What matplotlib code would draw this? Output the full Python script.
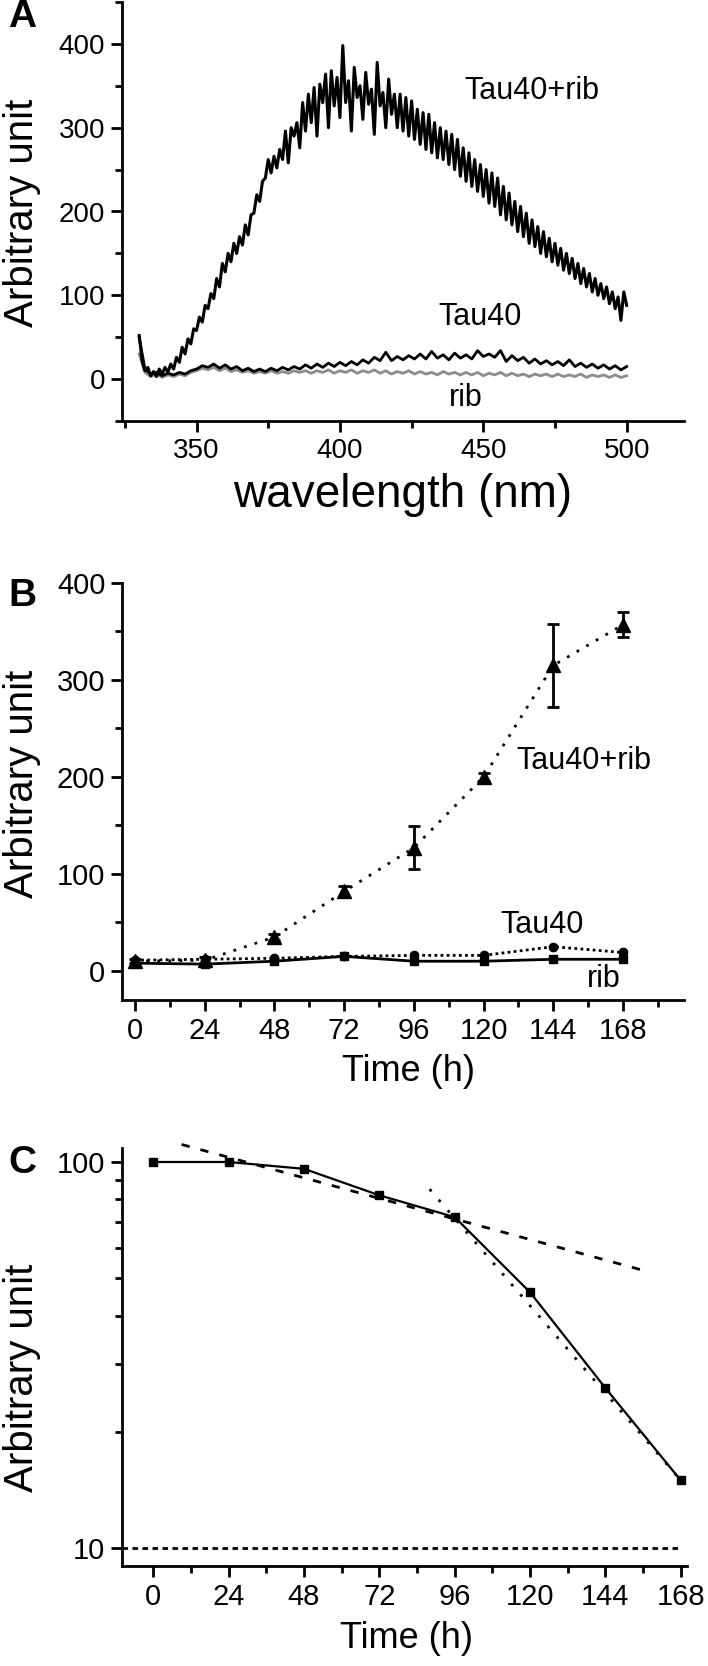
import numpy as np
import matplotlib
matplotlib.use('Agg')
import matplotlib.pyplot as plt
from matplotlib.ticker import FixedLocator, NullFormatter

plt.rcParams['font.family'] = ['Liberation Sans', 'DejaVu Sans']

# ---- panel A: emission spectra ----
wl_fine = np.arange(330, 501, 1)
tau40_rib_spec = [
    52, 22, 10, 14, 4, 9, 3, 12, 6, 14,
    8, 18, 12, 26, 20, 38, 30, 48, 42, 60,
    58, 74, 68, 88, 84, 102, 96, 120, 110, 138,
    128, 150, 140, 162, 150, 170, 160, 184, 172, 196,
    198, 220, 212, 236, 240, 262, 246, 266, 252, 274,
    262, 296, 258, 300, 290, 306, 276, 330, 296, 340,
    306, 348, 290, 352, 330, 364, 300, 368, 326, 360,
    312, 398, 330, 356, 296, 372, 336, 350, 310, 366,
    328, 346, 292, 378, 326, 342, 300, 358, 316, 340,
    300, 340, 296, 336, 290, 332, 286, 322, 280, 318,
    274, 316, 270, 306, 264, 300, 262, 296, 256, 292,
    250, 286, 242, 276, 236, 270, 230, 262, 224, 256,
    218, 250, 210, 246, 206, 240, 196, 230, 190, 222,
    184, 212, 176, 206, 170, 198, 162, 190, 158, 182,
    150, 176, 146, 168, 140, 162, 136, 156, 130, 150,
    126, 144, 120, 138, 114, 132, 110, 126, 104, 120,
    100, 114, 96, 110, 90, 104, 84, 98, 70, 104,
    88]

wl_coarse = np.arange(330, 501, 2)
tau40_spec = [
    50, 12, 6, 8, 4, 7, 5, 8, 6, 10,
    12, 16, 14, 18, 13, 17, 12, 15, 10, 13,
    9, 12, 9, 13, 10, 14, 11, 15, 12, 17,
    13, 18, 14, 19, 15, 20, 16, 21, 17, 23,
    19, 26, 22, 32, 22, 27, 23, 28, 24, 30,
    24, 33, 25, 29, 23, 31, 25, 29, 24, 34,
    27, 30, 26, 34, 21, 28, 22, 26, 19, 24,
    18, 22, 17, 21, 16, 23, 15, 19, 14, 18,
    13, 17, 12, 16, 11, 15]
rib_spec = [
    30, 8, 3, 6, 2, 5, 3, 6, 4, 8,
    10, 13, 11, 14, 10, 13, 9, 11, 8, 10,
    7, 9, 7, 10, 7, 9, 7, 10, 8, 10,
    7, 10, 8, 11, 7, 10, 8, 11, 7, 10,
    8, 11, 7, 10, 6, 9, 7, 10, 6, 9,
    6, 8, 5, 9, 6, 8, 5, 8, 5, 8,
    4, 7, 5, 8, 4, 7, 4, 6, 3, 6,
    4, 6, 3, 6, 3, 5, 3, 6, 2, 5,
    3, 5, 2, 5, 2, 4]

# ---- panel B: time course ----
time_h = [0, 24, 48, 72, 96, 120, 144, 168]
b_tau40_rib = [10, 11, 35, 82, 127, 200, 315, 357]
b_tau40_rib_err = [2, 3, 3, 6, 22, 4, 43, 13]
b_tau40 = [11, 12, 13, 15, 16, 16, 25, 19]
b_rib = [8, 7, 10, 15, 10, 10, 12, 12]

# ---- panel C: decay (log scale) ----
c_values = [100, 100, 96, 82, 72, 46, 26, 15]
fit1_t = [9, 155]
fit1_y = [111, 52.7]
fit2_t = [88, 168]
fit2_y = [85, 15]
baseline_t = [-10, 168]
baseline_y = [10, 10]

W, H = 708, 1666
fig = plt.figure(figsize=(W / 100, H / 100), dpi=100)


def style(ax, fs):
    for s in ['top', 'right']:
        ax.spines[s].set_visible(False)
    for s in ['left', 'bottom']:
        ax.spines[s].set_linewidth(2)
    ax.tick_params(which='major', direction='out', length=8, width=2,
                   labelsize=fs, pad=4)
    ax.tick_params(which='minor', direction='out', length=5, width=2)


# panel A
axA = fig.add_axes([122 / W, 1 - 421 / H, 562 / W, 419 / H])
axA.plot(wl_coarse, rib_spec, color='#8c8c8c', lw=2)
axA.plot(wl_coarse, tau40_spec, color='black', lw=2)
axA.plot(wl_fine, tau40_rib_spec, color='black', lw=2.2)
axA.set_xlim(324, 520)
axA.set_ylim(-50, 450)
axA.xaxis.set_major_locator(FixedLocator([350, 400, 450, 500]))
axA.xaxis.set_minor_locator(FixedLocator([325, 375, 425, 475]))
axA.yaxis.set_major_locator(FixedLocator([0, 100, 200, 300, 400]))
axA.yaxis.set_minor_locator(FixedLocator([-50, 50, 150, 250, 350, 450]))
style(axA, 20)
axA.set_xlabel('wavelength (nm)', fontsize=33)
axA.xaxis.set_label_coords(0.5, -0.125)
axA.text(467, 344, 'Tau40+rib', fontsize=22, ha='center', va='center')
axA.text(449, 74, 'Tau40', fontsize=22, ha='center', va='center')
axA.text(444, -22, 'rib', fontsize=22, ha='center', va='center')

# panel B
axB = fig.add_axes([122 / W, 1 - 1000 / H, 562 / W, 417 / H])
axB.plot(time_h, b_rib, color='black', lw=2, marker='s', ms=6)
axB.plot(time_h, b_tau40, color='black', lw=2, ls=(0, (1, 1.2)),
         marker='o', ms=6)
axB.errorbar(time_h, b_tau40_rib, yerr=b_tau40_rib_err, color='black',
             lw=2, ls=(0, (1, 3)), marker='^', ms=10, capsize=4,
             elinewidth=2, capthick=2)
axB.set_xlim(-4.5, 189)
axB.set_ylim(-30, 400)
axB.xaxis.set_major_locator(FixedLocator(time_h))
axB.xaxis.set_minor_locator(FixedLocator([12, 36, 60, 84, 108, 132, 156, 180]))
axB.yaxis.set_major_locator(FixedLocator([0, 100, 200, 300, 400]))
axB.yaxis.set_minor_locator(FixedLocator([50, 150, 250, 350]))
style(axB, 21)
axB.set_xlabel('Time (h)', fontsize=26)
axB.xaxis.set_label_coords(0.509, -0.13)
axB.text(154.5, 216, 'Tau40+rib', fontsize=22, ha='center', va='center')
axB.text(140, 47, 'Tau40', fontsize=22, ha='center', va='center')
axB.text(161.5, -8, 'rib', fontsize=22, ha='center', va='center')

# panel C
axC = fig.add_axes([122 / W, 1 - 1566 / H, 565 / W, 418 / H])
axC.set_yscale('log')
axC.plot(baseline_t, baseline_y, color='black', lw=2, ls=(0, (2, 1.6)))
axC.plot(fit1_t, fit1_y, color='black', lw=2, ls=(0, (3, 4)), clip_on=False)
axC.plot(fit2_t, fit2_y, color='black', lw=2, ls=(0, (1, 4)))
axC.plot(time_h, c_values, color='black', lw=1.6, marker='s', ms=6)
axC.set_xlim(-10, 170)
axC.set_ylim(9, 108.7)
axC.xaxis.set_major_locator(FixedLocator(time_h))
axC.xaxis.set_minor_locator(FixedLocator([12, 36, 60, 84, 108, 132, 156]))
axC.yaxis.set_major_locator(FixedLocator([10, 100]))
axC.yaxis.set_minor_locator(FixedLocator([20, 30, 40, 50, 60, 70, 80, 90]))
axC.yaxis.set_major_formatter(plt.FixedFormatter(['10', '100']))
axC.yaxis.set_minor_formatter(NullFormatter())
style(axC, 21)
axC.set_xlabel('Time (h)', fontsize=26)
axC.xaxis.set_label_coords(0.504, -0.132)

# y labels and panel letters
for yc in [213, 784, 1378]:
    fig.text(0.004, 1 - yc / H, 'Arbitrary unit', fontsize=29,
             rotation=90, ha='left', va='center')
for letter, yc in [('A', 17), ('B', 596), ('C', 1163)]:
    fig.text(22 / W, 1 - yc / H, letter, fontsize=28, fontweight='bold',
             ha='center', va='center')

fig.savefig('out.png', dpi=100)
